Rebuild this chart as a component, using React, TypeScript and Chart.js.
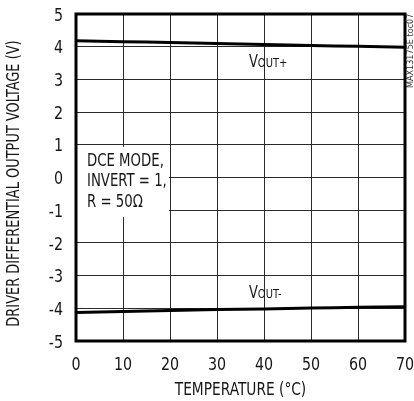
import React, { useEffect, useRef } from "react";
import { Chart, registerables } from "chart.js";

Chart.register(...registerables);

// Temperature sweep (°C) and measured differential output levels (V)
const temperatures = [0, 10, 20, 30, 40, 50, 60, 70];
const voutPlus = [4.18, 4.15, 4.13, 4.1, 4.07, 4.04, 4.01, 3.98];
const voutMinus = [-4.13, -4.1, -4.07, -4.04, -4.02, -3.99, -3.97, -3.95];

const xTicks = [0, 10, 20, 30, 40, 50, 60, 70];
const yTicks = [5, 4, 3, 2, 1, 0, -1, -2, -3, -4, -5];

const xTitle = "TEMPERATURE (°C)";
const yTitle = "DRIVER DIFFERENTIAL OUTPUT VOLTAGE (V)";
const noteLines = ["DCE MODE,", "INVERT = 1,", "R = 50Ω"];
const figureId = "MAX13175E toc07";

const FONT = "'DejaVu Sans Condensed', 'Roboto', sans-serif";
const INK = "#161616";

// Text in a narrow face: a condensed font squeezed horizontally by `sx`
function narrowText(
  ctx: CanvasRenderingContext2D,
  text: string,
  x: number,
  y: number,
  size: number,
  sx: number,
  align: CanvasTextAlign,
  baseline: CanvasTextBaseline,
  angle = 0
) {
  ctx.save();
  ctx.translate(x, y);
  if (angle) ctx.rotate(angle);
  ctx.scale(sx, 1);
  ctx.font = `${size}px ${FONT}`;
  ctx.textAlign = align;
  ctx.textBaseline = baseline;
  ctx.fillText(text, 0, 0);
  ctx.restore();
}

// Axis labels, the heavy frame, the condition note, curve labels and figure id
const decorations = {
  id: "decorations",
  afterDraw(chart: any) {
    const { ctx, chartArea } = chart;
    const xs = chart.scales.x;
    const ys = chart.scales.y;
    ctx.save();
    ctx.fillStyle = INK;

    // tick labels placed by the scales
    xs.ticks.forEach((t: any) => {
      narrowText(ctx, String(t.value), xs.getPixelForValue(t.value), chartArea.bottom + 24, 18, 0.88, "center", "middle");
    });
    ys.ticks.forEach((t: any) => {
      narrowText(ctx, String(t.value), chartArea.left - 13, ys.getPixelForValue(t.value) + 2, 18, 0.88, "right", "middle");
    });

    // axis titles
    narrowText(ctx, xTitle, (chartArea.left + chartArea.right) / 2, chartArea.bottom + 49, 18, 0.85, "center", "middle");
    narrowText(ctx, yTitle, 14, (chartArea.top + chartArea.bottom) / 2 + 6, 18, 0.8, "center", "middle", -Math.PI / 2);

    // condition note with white backing over the grid
    const bx0 = chartArea.left;
    const bx1 = xs.getPixelForValue(20) - 1;
    const by0 = ys.getPixelForValue(0.93);
    const by1 = ys.getPixelForValue(-1.21);
    ctx.fillStyle = "#fff";
    ctx.fillRect(bx0, by0, bx1 - bx0, by1 - by0);
    ctx.fillStyle = INK;
    noteLines.forEach((t, i) => {
      narrowText(ctx, t, bx0 + 11, by0 + 14 + i * 20.5, 18, 0.82, "left", "middle");
    });

    // curve labels: V with OUT± subscript
    const drawLabel = (xv: number, yv: number, sub: string) => {
      const px = xs.getPixelForValue(xv);
      const py = ys.getPixelForValue(yv);
      narrowText(ctx, "V", px, py, 17, 0.85, "left", "alphabetic");
      ctx.font = `17px ${FONT}`;
      const w = ctx.measureText("V").width * 0.85;
      narrowText(ctx, sub, px + w, py, 13, 0.85, "left", "alphabetic");
    };
    drawLabel(36.8, 3.39, "OUT+");
    drawLabel(36.8, -3.69, "OUT-");

    // heavy frame
    ctx.strokeStyle = "#000";
    ctx.lineWidth = 3;
    ctx.strokeRect(chartArea.left, chartArea.top, chartArea.right - chartArea.left, chartArea.bottom - chartArea.top);

    // figure id along the right edge
    ctx.fillStyle = "#333";
    narrowText(ctx, figureId, 411, 88, 9, 1, "left", "middle", -Math.PI / 2);
    ctx.restore();
  },
};

export default function App() {
  const ref = useRef<HTMLCanvasElement | null>(null);

  useEffect(() => {
    if (!ref.current) return;
    const chart = new Chart(ref.current, {
      type: "line",
      data: {
        datasets: [
          {
            label: "VOUT+",
            data: temperatures.map((t, i) => ({ x: t, y: voutPlus[i] })),
            borderColor: "#000",
            borderWidth: 3,
            pointRadius: 0,
            tension: 0.3,
          },
          {
            label: "VOUT-",
            data: temperatures.map((t, i) => ({ x: t, y: voutMinus[i] })),
            borderColor: "#000",
            borderWidth: 3,
            pointRadius: 0,
            tension: 0.3,
          },
        ],
      },
      options: {
        animation: false,
        responsive: false,
        layout: { padding: { left: 0, right: 9, top: 14, bottom: 0 } },
        plugins: { legend: { display: false }, tooltip: { enabled: false } },
        scales: {
          x: {
            type: "linear",
            min: 0,
            max: 70,
            afterBuildTicks: (s: any) => {
              s.ticks = xTicks.map((v) => ({ value: v }));
            },
            afterFit: (s: any) => {
              s.paddingLeft = 0;
              s.paddingRight = 0;
              s.height = 60;
            },
            grid: { color: "#2a2a2a", lineWidth: 1, drawTicks: false },
            border: { display: false },
            ticks: { display: false },
          },
          y: {
            type: "linear",
            min: -5,
            max: 5,
            afterBuildTicks: (s: any) => {
              s.ticks = yTicks.map((v) => ({ value: v }));
            },
            afterFit: (s: any) => {
              s.paddingTop = 0;
              s.paddingBottom = 0;
              s.width = 76;
            },
            grid: { color: "#2a2a2a", lineWidth: 1, drawTicks: false },
            border: { display: false },
            ticks: { display: false },
          },
        },
      },
      plugins: [decorations],
    });
    return () => chart.destroy();
  }, []);

  return (
    <div style={{ position: "fixed", left: 0, top: 0, width: 414, height: 401, background: "#fff" }}>
      <canvas ref={ref} width={414} height={401} />
    </div>
  );
}
